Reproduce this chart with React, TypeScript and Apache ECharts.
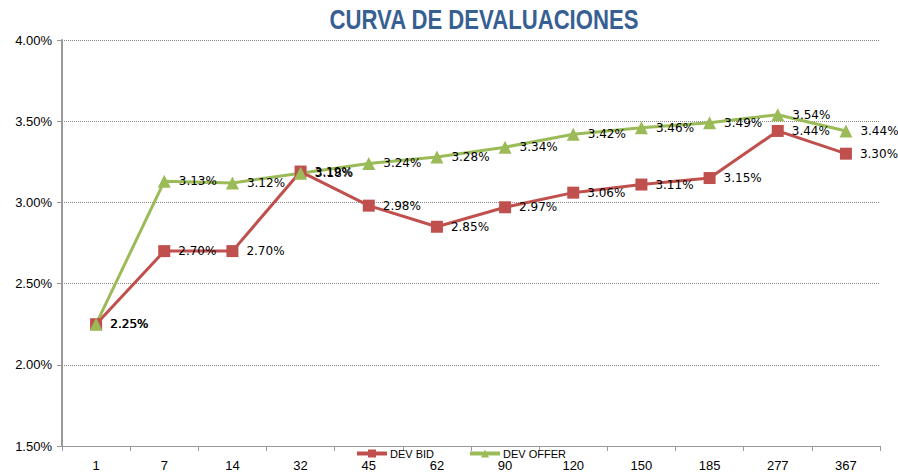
import React, { useEffect, useRef } from "react";
import * as echarts from "echarts";

const categories = ["1", "7", "14", "32", "45", "62", "90", "120", "150", "185", "277", "367"];
const devBid = [2.25, 2.70, 2.70, 3.19, 2.98, 2.85, 2.97, 3.06, 3.11, 3.15, 3.44, 3.30];
const devOffer = [2.25, 3.13, 3.12, 3.18, 3.24, 3.28, 3.34, 3.42, 3.46, 3.49, 3.54, 3.44];

export default function App() {
  const ref = useRef<HTMLDivElement>(null);
  useEffect(() => {
    if (!ref.current) return;
    const chart = echarts.init(ref.current, null, { renderer: "svg" });
    const labelStyle = {
      show: true,
      position: "right" as const,
      distance: 8,
      fontFamily: "DejaVu Sans",
      fontSize: 12,
      color: "#000",
      formatter: (p: any) => p.value.toFixed(2) + "%",
    };
    chart.setOption({
      animation: false,
      backgroundColor: "#fff",
      graphic: [
        {
          type: "text",
          x: 484,
          y: 20,
          scaleX: 0.82,
          style: {
            text: "CURVA DE DEVALUACIONES",
            align: "center",
            verticalAlign: "middle",
            fontFamily: "Liberation Sans",
            fontWeight: "bold",
            fontSize: 27,
            fill: "#376092",
          },
        },
      ],
      legend: {
        left: 350,
        top: 443,
        itemWidth: 30,
        itemHeight: 10,
        itemGap: 34,
        textStyle: { fontFamily: "Liberation Sans", fontSize: 11, color: "#000", padding: [0, 0, 0, -2] },
        data: [
          { name: "DEV BID", lineStyle: { width: 4 } },
          { name: "DEV OFFER", lineStyle: { width: 4 } },
        ],
      },
      grid: { left: 62, right: 18, top: 40, bottom: 26 },
      xAxis: {
        type: "category",
        data: categories,
        boundaryGap: true,
        axisLine: { lineStyle: { color: "#999", width: 1 } },
        axisTick: { show: true, alignWithLabel: false, lineStyle: { color: "#999" }, length: 5 },
        axisLabel: { fontFamily: "Liberation Sans", fontSize: 13, color: "#000", margin: 13 },
      },
      yAxis: {
        type: "value",
        min: 1.5,
        max: 4.0,
        interval: 0.5,
        axisLine: { show: true, lineStyle: { color: "#999", width: 2 } },
        axisTick: { show: true, inside: false, length: 5, lineStyle: { color: "#999" } },
        axisLabel: {
          fontFamily: "Liberation Sans",
          fontSize: 13,
          color: "#000",
          margin: 10,
          formatter: (v: number) => v.toFixed(2) + "%",
        },
        splitLine: { show: true, lineStyle: { color: "#888", type: [1, 1], width: 1 } },
      },
      series: [
        {
          name: "DEV BID",
          type: "line",
          data: devBid,
          symbol: "rect",
          symbolSize: 12,
          lineStyle: { color: "#C0504D", width: 3 },
          itemStyle: { color: "#C0504D" },
          label: labelStyle,
        },
        {
          name: "DEV OFFER",
          type: "line",
          data: devOffer,
          symbol: "triangle",
          symbolSize: 13,
          lineStyle: { color: "#9BBB59", width: 3 },
          itemStyle: { color: "#9BBB59" },
          label: labelStyle,
        },
      ],
    });
    return () => chart.dispose();
  }, []);
  return <div ref={ref} style={{ width: 898, height: 472, position: "absolute", left: 0, top: 0 }} />;
}
